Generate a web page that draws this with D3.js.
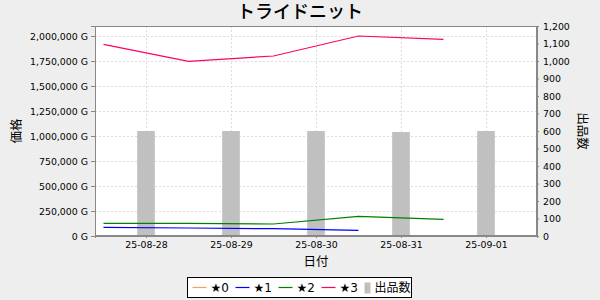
<!DOCTYPE html>
<html>
<head>
<meta charset="utf-8">
<script src="https://cdn.jsdelivr.net/npm/d3@7"></script>
<style>
  body { margin: 0; background: #eeeeee; }
  svg { display: block; }
</style>
</head>
<body>
<div id="chart"></div>
<script>
// chart values
var barDates = ["2025-08-28", "2025-08-29", "2025-08-30", "2025-08-31", "2025-09-01"];
var barCounts = [600, 600, 600, 594, 600];
var lineDates = ["2025-08-27T12:00:00Z", "2025-08-28T12:00:00Z", "2025-08-29T12:00:00Z", "2025-08-30T12:00:00Z", "2025-08-31T12:00:00Z"];
var star0 = [null, null, null, null, null];
var star1 = [87000, 80000, 73000, 57000, null];
var star2 = [127000, 127000, 120000, 197000, 167000];
var star3 = [1917000, 1747000, 1800000, 2000000, 1967000];
var seriesNames = ["★0", "★1", "★2", "★3"];
var priceTicks = [0, 250000, 500000, 750000, 1000000, 1250000, 1500000, 1750000, 2000000];
var countTicks = [0, 100, 200, 300, 400, 500, 600, 700, 800, 900, 1000, 1100, 1200];

var attrs = {
    svgWidth: 600,
    svgHeight: 300,
    marginTop: 26,
    marginLeft: 95,
    marginRight: 63,
    marginBottom: 64,
    background: '#eeeeee',
    font: '"DejaVu Sans", "Noto Sans CJK JP", sans-serif',
    colors: ['#ff9966', '#0000ff', '#008000', '#ff0066'],
    barColor: '#c0c0c0',
    axisColor: '#888888',
    gridColor: '#dddddd'
};

var calc = {};
calc.chartWidth = attrs.svgWidth - attrs.marginLeft - attrs.marginRight;
calc.chartHeight = attrs.svgHeight - attrs.marginTop - attrs.marginBottom;

var day = 864e5;
var parseDay = function (s) { return new Date(s + "T00:00:00Z"); };
var bars = barDates.map(function (d, i) { return { date: parseDay(d), value: barCounts[i] }; });
var series = [star0, star1, star2, star3].map(function (vals, k) {
    return {
        name: seriesNames[k],
        color: attrs.colors[k],
        points: vals.map(function (v, i) { return { date: new Date(lineDates[i]), value: v }; })
            .filter(function (p) { return p.value != null; })
    };
});

// scales
var x = d3.scaleUtc()
    .domain([new Date(+bars[0].date - 0.6 * day), new Date(+bars[bars.length - 1].date + 0.6 * day)])
    .range([0, calc.chartWidth]);
var yPrice = d3.scaleLinear().domain([0, 2100000]).range([calc.chartHeight, 0]);
var yCount = d3.scaleLinear().domain([0, 1200]).range([calc.chartHeight, 0]);

var svg = d3.select('#chart').append('svg')
    .attr('width', attrs.svgWidth)
    .attr('height', attrs.svgHeight)
    .attr('font-family', attrs.font)
    .style('background-color', attrs.background);

// title
svg.append('text')
    .attr('x', attrs.svgWidth / 2)
    .attr('y', 18)
    .attr('text-anchor', 'middle')
    .attr('font-size', 18)
    .attr('font-weight', 500)
    .attr('fill', '#000')
    .text('トライドニット');

var chart = svg.append('g')
    .attr('transform', 'translate(' + attrs.marginLeft + ',' + attrs.marginTop + ')');

chart.append('rect')
    .attr('width', calc.chartWidth)
    .attr('height', calc.chartHeight)
    .attr('fill', '#fff');

// gridlines
chart.append('g').selectAll('line.hgrid').data(priceTicks.slice(1))
    .enter().append('line')
    .attr('class', 'hgrid')
    .attr('x1', 0).attr('x2', calc.chartWidth)
    .attr('y1', d => yPrice(d) + 0.5).attr('y2', d => yPrice(d) + 0.5)
    .attr('stroke', attrs.gridColor)
    .attr('stroke-dasharray', '2,2');

chart.append('g').selectAll('line.vgrid').data(bars)
    .enter().append('line')
    .attr('class', 'vgrid')
    .attr('x1', d => Math.round(x(d.date)) + 0.5).attr('x2', d => Math.round(x(d.date)) + 0.5)
    .attr('y1', 0).attr('y2', calc.chartHeight)
    .attr('stroke', attrs.gridColor)
    .attr('stroke-dasharray', '2,2');

// bars (count)
var barW = x(new Date(0.208 * day)) - x(new Date(0));
chart.append('g').selectAll('rect').data(bars)
    .enter().append('rect')
    .attr('x', d => x(d.date) - barW / 2)
    .attr('y', d => yCount(d.value))
    .attr('width', barW)
    .attr('height', d => calc.chartHeight - yCount(d.value))
    .attr('fill', attrs.barColor);

// price lines
var line = d3.line().x(d => x(d.date)).y(d => yPrice(d.value));
chart.append('g').selectAll('path').data(series.filter(s => s.points.length > 1))
    .enter().append('path')
    .attr('d', d => line(d.points))
    .attr('fill', 'none')
    .attr('stroke', d => d.color)
    .attr('stroke-width', 1.2);

// frame
chart.append('rect')
    .attr('x', 0.5).attr('y', 0.5)
    .attr('width', calc.chartWidth - 1)
    .attr('height', calc.chartHeight - 1)
    .attr('fill', 'none')
    .attr('stroke', attrs.axisColor);

// axes
var fmtPrice = d3.format(',');
var leftAxis = chart.append('g')
    .call(d3.axisLeft(yPrice).tickValues(priceTicks).tickSize(4).tickPadding(3)
        .tickFormat(d => fmtPrice(d) + ' G'));
var rightAxis = chart.append('g')
    .attr('transform', 'translate(' + calc.chartWidth + ',0)')
    .call(d3.axisRight(yCount).tickValues(countTicks).tickSize(2).tickPadding(4)
        .tickFormat(d3.format(',')));
var bottomAxis = chart.append('g')
    .attr('transform', 'translate(0,' + calc.chartHeight + ')')
    .call(d3.axisBottom(x).tickValues(bars.map(d => d.date)).tickSize(2).tickPadding(3)
        .tickFormat(d3.utcFormat('%y-%m-%d')));

[leftAxis, rightAxis, bottomAxis].forEach(function (a) {
    a.attr('font-family', attrs.font).attr('font-size', 9.4);
    a.select('.domain').attr('stroke', attrs.axisColor);
    a.selectAll('.tick line').attr('stroke', attrs.axisColor);
    a.selectAll('.tick text').attr('fill', '#000');
});

// axis titles
svg.append('text')
    .attr('transform', 'translate(21,' + (attrs.marginTop + calc.chartHeight / 2) + ') rotate(-90)')
    .attr('text-anchor', 'middle')
    .attr('font-size', 12.5)
    .text('価格');
svg.append('text')
    .attr('transform', 'translate(578,' + (attrs.marginTop + calc.chartHeight / 2) + ') rotate(90)')
    .attr('text-anchor', 'middle')
    .attr('font-size', 12.5)
    .text('出品数');
svg.append('text')
    .attr('x', attrs.marginLeft + calc.chartWidth / 2)
    .attr('y', 266)
    .attr('text-anchor', 'middle')
    .attr('font-size', 12.5)
    .text('日付');

// legend
var legend = svg.append('g').attr('transform', 'translate(187.5,277.5)');
legend.append('rect')
    .attr('width', 224).attr('height', 20)
    .attr('fill', '#fff').attr('stroke', '#000');

var legendItems = series.map(s => ({ name: s.name, color: s.color, type: 'line' }))
    .concat([{ name: '出品数', color: attrs.barColor, type: 'bar' }]);
legendItems.forEach(function (item, i) {
    var g = legend.append('g').attr('transform', 'translate(' + (5 + i * 43) + ',0)');
    var textX;
    if (item.type === 'line') {
        g.append('line')
            .attr('x1', 0).attr('x2', 14)
            .attr('y1', 10).attr('y2', 10)
            .attr('stroke', item.color).attr('stroke-width', 1.2);
        textX = 18;
    } else {
        g.append('rect')
            .attr('x', 0).attr('y', 5).attr('width', 6).attr('height', 11)
            .attr('fill', item.color);
        textX = 10;
    }
    var t = g.append('text')
        .attr('x', textX).attr('y', 14.5)
        .attr('font-size', 12)
        .text(item.name);
    var len = t.node().getComputedTextLength();
    var maxLen = item.type === 'line' ? 19 : 36;
    if (len > maxLen) t.attr('textLength', maxLen).attr('lengthAdjust', 'spacingAndGlyphs');
});
</script>
</body>
</html>
